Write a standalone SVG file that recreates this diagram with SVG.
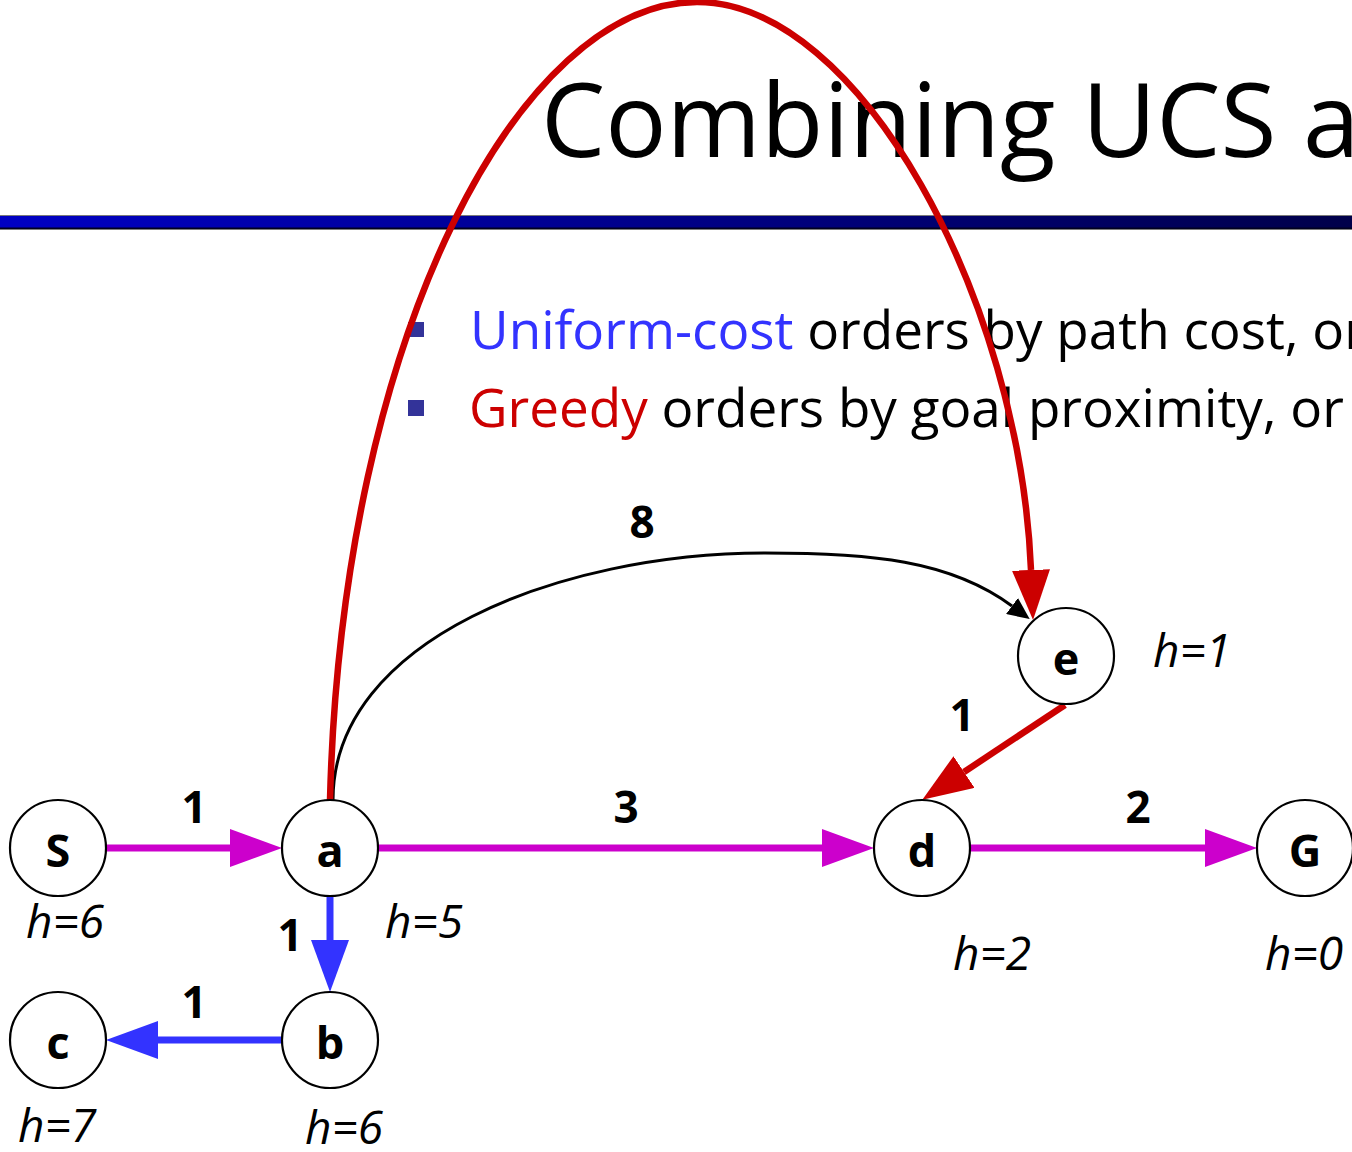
<svg xmlns="http://www.w3.org/2000/svg" width="1352" height="1152" viewBox="0 0 1352 1152">
<style>
.node circle{fill:#fff;stroke:#000;stroke-width:2.2}
.nl{font-family:"Open Sans","Liberation Sans",sans-serif;font-weight:bold;font-size:45px;text-anchor:middle;fill:#000}
.el{font-family:"Open Sans","Liberation Sans",sans-serif;font-weight:bold;font-size:44px;text-anchor:middle;fill:#000}
.hl{font-family:"Open Sans","Liberation Sans",sans-serif;font-style:italic;font-size:46px;fill:#000}
.bt{font-family:"Open Sans","Liberation Sans",sans-serif;font-size:53px;fill:#000}
.mag{stroke:#CC00CC;stroke-width:7;fill:none}
.blu{stroke:#3333FF;stroke-width:7;fill:none}
.red{stroke:#CC0000;stroke-width:6.5;fill:none}
.blk{stroke:#000;stroke-width:3;fill:none}
</style>
<defs>
<linearGradient id="bar" x1="0" y1="0" x2="1" y2="0">
<stop offset="0" stop-color="#0000C4"/>
<stop offset="1" stop-color="#00004A"/>
</linearGradient>
<marker id="am" markerUnits="userSpaceOnUse" markerWidth="52" markerHeight="38" refX="0" refY="19" orient="auto"><path d="M0,0 L52,19 L0,38 z" fill="#CC00CC"/></marker>
<marker id="ab" markerUnits="userSpaceOnUse" markerWidth="52" markerHeight="38" refX="0" refY="19" orient="auto"><path d="M0,0 L52,19 L0,38 z" fill="#3333FF"/></marker>
<marker id="ar" markerUnits="userSpaceOnUse" markerWidth="50" markerHeight="38" refX="0" refY="19" orient="auto"><path d="M0,0 L50,19 L0,38 z" fill="#CC0000"/></marker>
<marker id="ak" markerUnits="userSpaceOnUse" markerWidth="22" markerHeight="20" refX="0" refY="10" orient="auto"><path d="M0,0 L22,10 L0,20 z" fill="#000"/></marker>
</defs>
<rect width="1352" height="1152" fill="#fff"/>
<g id="title">
<text x="541" y="157" font-family="'Open Sans','Liberation Sans',sans-serif" font-size="102" fill="#000">Combining UCS a</text>
<rect x="0" y="215" width="1352" height="15" fill="#7a7a7a"/>
<rect x="0" y="216" width="1352" height="12" fill="url(#bar)"/>
<rect x="0" y="227.5" width="1352" height="1.5" fill="#000020"/>
</g>
<g id="bullets">
<rect x="408" y="322" width="16" height="15" fill="#333399"/>
<rect x="408" y="400" width="16" height="16" fill="#333399"/>
<text class="bt" x="470" y="349"><tspan fill="#3333FF">Uniform-cost</tspan> orders by path cost, or</text>
<text class="bt" x="469" y="427"><tspan fill="#CC0000">Greedy</tspan> orders by goal proximity, or</text>
</g>
<g id="connectors">
<path class="mag" d="M106,848 L230,848" marker-end="url(#am)"/>
<path class="mag" d="M378,848 L822,848" marker-end="url(#am)"/>
<path class="mag" d="M970,848 L1205,848" marker-end="url(#am)"/>
<path class="blu" d="M330,896 L330,940" marker-end="url(#ab)"/>
<path class="blu" d="M282,1040 L158,1040" marker-end="url(#ab)"/>
<path class="blk" d="M333,800 C333,640 560,553 765,553 C870,553 950,560 1012,606" marker-end="url(#ak)"/>
<path class="red" d="M330,800 C342,330 522,2 697,2 C860,2 1020,300 1031,570" marker-end="url(#ar)"/>
<path class="red" d="M1065,705 L964,772" marker-end="url(#ar)"/>
<text class="el" x="194" y="823">1</text>
<text class="el" x="626" y="823">3</text>
<text class="el" x="1138" y="823">2</text>
<text class="el" x="290" y="951">1</text>
<text class="el" x="194" y="1018">1</text>
<text class="el" x="642" y="538">8</text>
<text class="el" x="962" y="731">1</text>
</g>
<g id="node-S" class="node"><circle cx="58" cy="848" r="48"/><text class="nl" x="58" y="867">S</text><text class="hl" x="26" y="938">h=6</text></g>
<g id="node-a" class="node"><circle cx="330" cy="848" r="48"/><text class="nl" x="330" y="867">a</text><text class="hl" x="385" y="938">h=5</text></g>
<g id="node-b" class="node"><circle cx="330" cy="1040" r="48"/><text class="nl" x="330" y="1059">b</text><text class="hl" x="305" y="1144">h=6</text></g>
<g id="node-c" class="node"><circle cx="58" cy="1040" r="48"/><text class="nl" x="58" y="1059">c</text><text class="hl" x="18" y="1142">h=7</text></g>
<g id="node-d" class="node"><circle cx="922" cy="848" r="48"/><text class="nl" x="922" y="867">d</text><text class="hl" x="953" y="970">h=2</text></g>
<g id="node-G" class="node"><circle cx="1305" cy="848" r="48"/><text class="nl" x="1305" y="867">G</text><text class="hl" x="1265" y="970">h=0</text></g>
<g id="node-e" class="node"><circle cx="1066" cy="656" r="48"/><text class="nl" x="1066" y="675">e</text><text class="hl" x="1153" y="667">h=1</text></g>
</svg>
